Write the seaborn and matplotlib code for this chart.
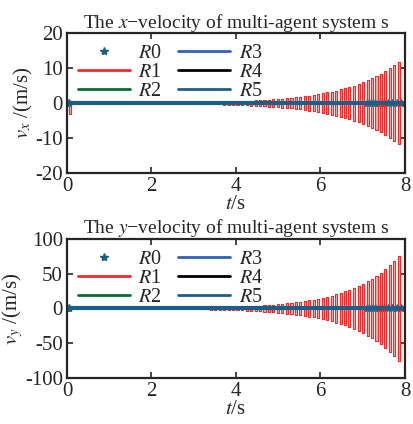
import numpy as np
import pandas as pd
import matplotlib.pyplot as plt
import seaborn as sns

# R1 oscillation bars: start times (s) and amplitudes
bar_t = [3.06, 3.17, 3.27, 3.38, 3.48, 3.59, 3.70, 3.80, 3.91, 4.01,
         4.12, 4.23, 4.33, 4.44, 4.54, 4.65, 4.76, 4.86, 4.97, 5.07,
         5.18, 5.29, 5.39, 5.50, 5.60, 5.71, 5.82, 5.92, 6.03, 6.13,
         6.24, 6.35, 6.45, 6.56, 6.66, 6.77, 6.88, 6.98, 7.09, 7.19,
         7.30, 7.41, 7.51, 7.62, 7.72, 7.83]
amp_x = [0.26, 0.28, 0.31, 0.33, 0.36, 0.39, 0.43, 0.47, 0.51, 0.55,
         0.60, 0.66, 0.71, 0.78, 0.85, 0.92, 1.00, 1.09, 1.19, 1.29,
         1.41, 1.53, 1.67, 1.82, 1.98, 2.15, 2.34, 2.55, 2.77, 3.02,
         3.28, 3.57, 3.89, 4.23, 4.61, 5.01, 5.46, 5.94, 6.46, 7.04,
         7.66, 8.34, 9.07, 9.88, 10.75, 11.7]
amp_y = [1.1, 1.2, 1.4, 1.5, 1.6, 1.8, 2.0, 2.2, 2.4, 2.6,
         2.9, 3.2, 3.5, 3.8, 4.2, 4.6, 5.0, 5.5, 6.0, 6.6,
         7.3, 8.0, 8.8, 9.6, 10.6, 11.6, 12.7, 14.0, 15.3, 16.8,
         18.5, 20.3, 22.3, 24.5, 26.9, 29.5, 32.4, 35.5, 39.0, 42.8,
         47.0, 51.6, 56.7, 62.2, 68.3, 75.0]
bar_w = 0.05

# initial transient of R1 in the x-velocity
dip_t = 0.04
dip_x = -3.0

# other agents stay at zero
t_flat = [0.0, 7.95]
v_flat = [0.0, 0.0]
r0_t = [0.0, 0.05, 7.1, 7.2, 7.3, 7.4, 7.5, 7.6, 7.7, 7.8, 7.9]
r0_v = [0.0] * len(r0_t)

labels = ['$R$0', '$R$1', '$R$2', '$R$3', '$R$4', '$R$5']
colors = {'R1': '#f22a2a', 'R2': '#0b6b35', 'R3': '#2f62b8',
          'R4': '#000000', 'R5': '#1c5f86', 'R0': '#1c5f86'}

sns.set_style('ticks')
plt.rcParams['font.family'] = ['Liberation Serif', 'DejaVu Serif']
plt.rcParams['mathtext.fontset'] = 'stix'
plt.rcParams['axes.unicode_minus'] = False
plt.rcParams['font.size'] = 14


def r1_frame(amps, first=None):
    xs, ys = [0.0], [0.0]
    if first is not None:
        t, a = first
        xs += [t, t, t + bar_w, t + bar_w, t]
        ys += [0, a, a, 0, 0]
    for t, a in zip(bar_t, amps):
        xs += [t, t, t + bar_w, t + bar_w, t, t]
        ys += [0, a, a, -a, -a, 0]
    xs.append(7.95)
    ys.append(0.0)
    return pd.DataFrame({'t': xs, 'v': ys})


def draw(ax, amps, first, ylim, yticks, comp):
    ax.plot(r0_t, r0_v, ls='none', marker='*', ms=6, color=colors['R0'], label=labels[0])
    if first is not None:
        ax.fill_between([first[0], first[0] + bar_w], first[1], 0, color='#f9b0b0', lw=0)
    for t, a in zip(bar_t, amps):
        ax.fill_between([t, t + bar_w], -a, a, color='#f9b0b0', lw=0)
    df = r1_frame(amps, first)
    sns.lineplot(data=df, x='t', y='v', sort=False, estimator=None, ax=ax,
                 color=colors['R1'], lw=0.8, label=labels[1])
    for key, lab, lw in [('R2', labels[2], 2.0), ('R3', labels[3], 2.0),
                         ('R4', labels[4], 2.0), ('R5', labels[5], 3.0)]:
        sns.lineplot(x=t_flat, y=v_flat, ax=ax, color=colors[key], lw=lw, label=lab)
    ax.set_xlim(0, 8)
    ax.set_ylim(*ylim)
    ax.set_xticks([0, 2, 4, 6, 8])
    ax.set_yticks(yticks)
    ax.tick_params(direction='in', top=True, right=True, length=4, width=1.2,
                   labelsize=15, pad=3)
    for s in ax.spines.values():
        s.set_linewidth(1.6)
    ax.set_title(f'The ${comp}$\u2212velocity of multi-agent system s', fontsize=14, pad=4)
    ax.set_xlabel('$t$/s', fontsize=15, labelpad=-1)
    ax.set_ylabel(f'$v_{comp}$ /(m/s)', fontsize=15, labelpad=0)
    leg = ax.legend(ncol=2, loc='upper left', frameon=False, fontsize=14.5,
                    handlelength=2.6, handletextpad=0.4, columnspacing=0.8,
                    labelspacing=0.0, borderpad=0.2, borderaxespad=0.0,
                    bbox_to_anchor=(0.02, 0.95))
    for ln in leg.get_lines()[1:]:
        ln.set_linewidth(2.0)


fig = plt.figure(figsize=(4.13, 4.24), dpi=100)
ax1 = fig.add_axes([0.1622, 0.592, 0.8184, 0.330])
ax2 = fig.add_axes([0.1622, 0.1085, 0.8184, 0.328])

draw(ax1, amp_x, (dip_t, dip_x), (-20, 20), [-20, -10, 0, 10, 20], 'x')
draw(ax2, amp_y, None, (-100, 100), [-100, -50, 0, 50, 100], 'y')

fig.savefig('out.png', dpi=100)
